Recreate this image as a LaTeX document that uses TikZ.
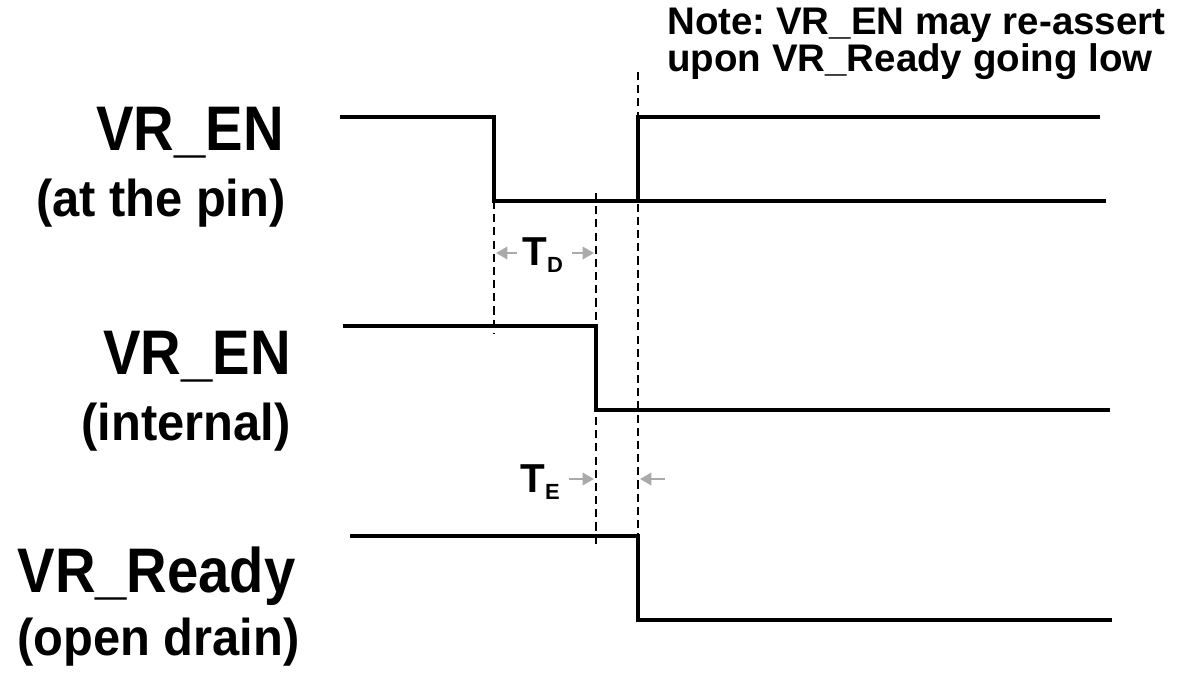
\documentclass[tikz,border=0pt]{standalone}
\usepackage{fontspec}
\setmainfont{Liberation Sans}
\usetikzlibrary{arrows.meta}
\frenchspacing
\definecolor{arrowgray}{RGB}{170,170,170}
\tikzset{
  sig/.style={line width=2.2pt},
  guide/.style={line width=1.6pt,dash pattern=on 4.6pt off 2.9pt},
  gap/.style={-{Triangle[length=6.5pt,width=7pt]},line width=1.6pt,arrowgray},
  signame/.style={font=\fontsize{32}{34}\selectfont\bfseries,inner sep=0pt,anchor=base east},
  sigwhere/.style={font=\fontsize{27.8}{30}\selectfont\bfseries,inner sep=0pt,anchor=base east},
  delay/.style={inner sep=0pt,anchor=base west},
}
\newcommand{\tall}[2]{\scalebox{1}[#1]{#2}}
\newcommand{\tlab}[1]{{\fontsize{23}{24}\selectfont\bfseries T}\raisebox{-4pt}{\fontsize{12.5}{13}\selectfont\bfseries #1}}

\begin{document}
\begin{tikzpicture}[x=0.02cm,y=-0.02cm]
  \useasboundingbox (0,0) rectangle (1178,673);
  % labels
  \node[signame] (pinname) at (284,150) {\tall{1.12}{VR\_EN}};
  \node[sigwhere] (pinwhere) at (286,216) {\tall{1.06}{(at the pin)}};
  \node[signame] (intname) at (291,374) {\tall{1.12}{VR\_EN}};
  \node[sigwhere] (intwhere) at (291,440) {\tall{1.06}{(internal)}};
  \node[signame] (rdyname) at (296,592) {\tall{1.12}{VR\_Ready}};
  \node[sigwhere] (rdywhere) at (300,655) {\tall{1.06}{(open drain)}};
  \node[inner sep=0pt,anchor=north west,align=left,
    font=\fontsize{21.9}{20.6}\selectfont\bfseries] (note) at (667,8)
    {Note: VR\_EN may re-assert\\upon VR\_Ready going low};

  % waveforms
  \draw[sig] (340,117) -- (494,117) -- (494,201) -- (1106,201);
  \draw[sig] (638,201) -- (638,117) -- (1100,117);
  \draw[sig] (343,326) -- (596,326) -- (596,410) -- (1110,410);
  \draw[sig] (350,536) -- (638,536) -- (638,620) -- (1112,620);

  % timing guides
  \coordinate (dtop) at (494,201);
  \coordinate (dbot) at (494,334);
  \coordinate (etop) at (596,193);
  \coordinate (ebot) at (596,546);
  \coordinate (rtop) at (638,72);
  \coordinate (rbot) at (638,546);
  \draw[guide] (dtop) -- (dbot);
  \draw[guide] (etop) -- (ebot);
  \draw[guide] (rtop) -- (rbot);

  \node[delay] (td) at (522,265) {\tlab{D}};
  \draw[gap] (517,253) -- (496,253);
  \draw[gap] (572,253) -- (594,253);

  \node[delay] (te) at (520,492) {\tlab{E}};
  \draw[gap] (569,479) -- (594,479);
  \draw[gap] (665,479) -- (640,479);
\end{tikzpicture}
\end{document}
